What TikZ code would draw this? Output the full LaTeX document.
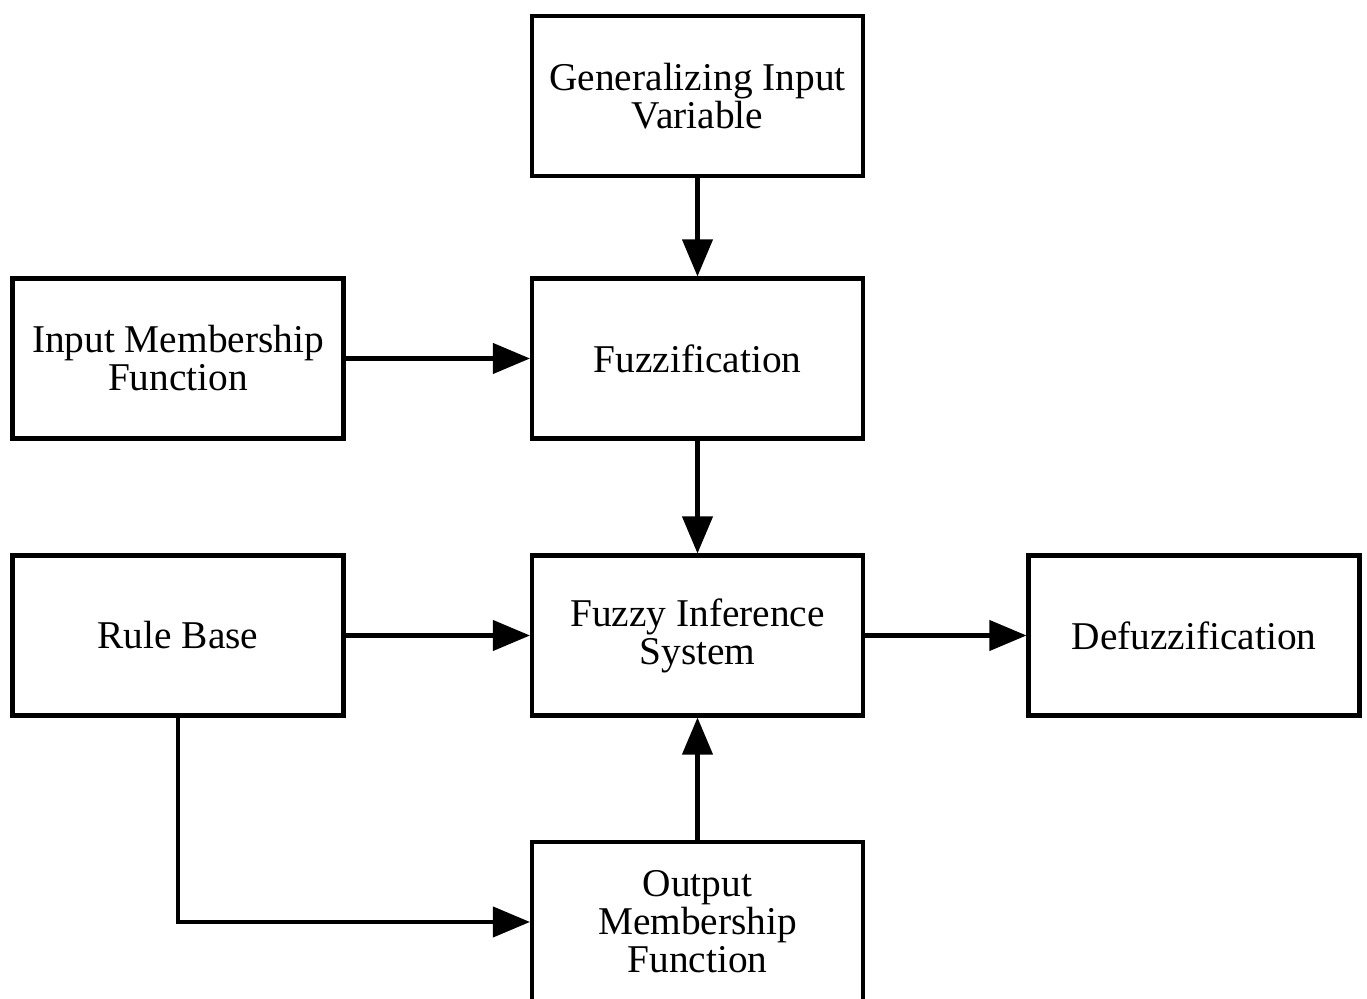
\documentclass[tikz,border=0pt]{standalone}
\usepackage{fontspec}
\setmainfont{Liberation Serif}
\usetikzlibrary{arrows.meta}

\begin{document}
\begin{tikzpicture}[
    box/.style={draw, line width=1.15pt, minimum width=3.31cm, minimum height=1.6cm,
        align=center, font=\fontsize{11.2}{10.8}\selectfont},
    arr/.style={line width=1.15pt, -{Triangle[length=3.7mm,width=3mm]}}
  ]
    \useasboundingbox (0,0) rectangle (13.67,9.99);

    % Boxes
    \node[box] (gen)  at (6.975,9.03)  {Generalizing Input\\Variable};
    \node[box] (fuzz) at (6.975,6.405) {Fuzzification};
    \node[box] (imf)  at (1.78,6.405)  {Input Membership\\Function};
    \node[box] (rule) at (1.78,3.635)  {Rule Base};
    \node[box] (fis)  at (6.975,3.635) {Fuzzy Inference\\System};
    \node[box] (defz) at (11.94,3.635) {Defuzzification};
    \node[box] (omf)  at (6.975,0.77)  {Output\\Membership\\Function};

    % Arrows
    \draw[arr] (gen) -- (fuzz);
    \draw[arr] (imf) -- (fuzz);
    \draw[arr] (fuzz) -- (fis);
    \draw[arr] (rule) -- (fis);
    \draw[arr] (fis) -- (defz);
    \draw[arr] (omf) -- (fis);
    \draw[arr] (rule.south) |- (omf.west);

\end{tikzpicture}
\end{document}
